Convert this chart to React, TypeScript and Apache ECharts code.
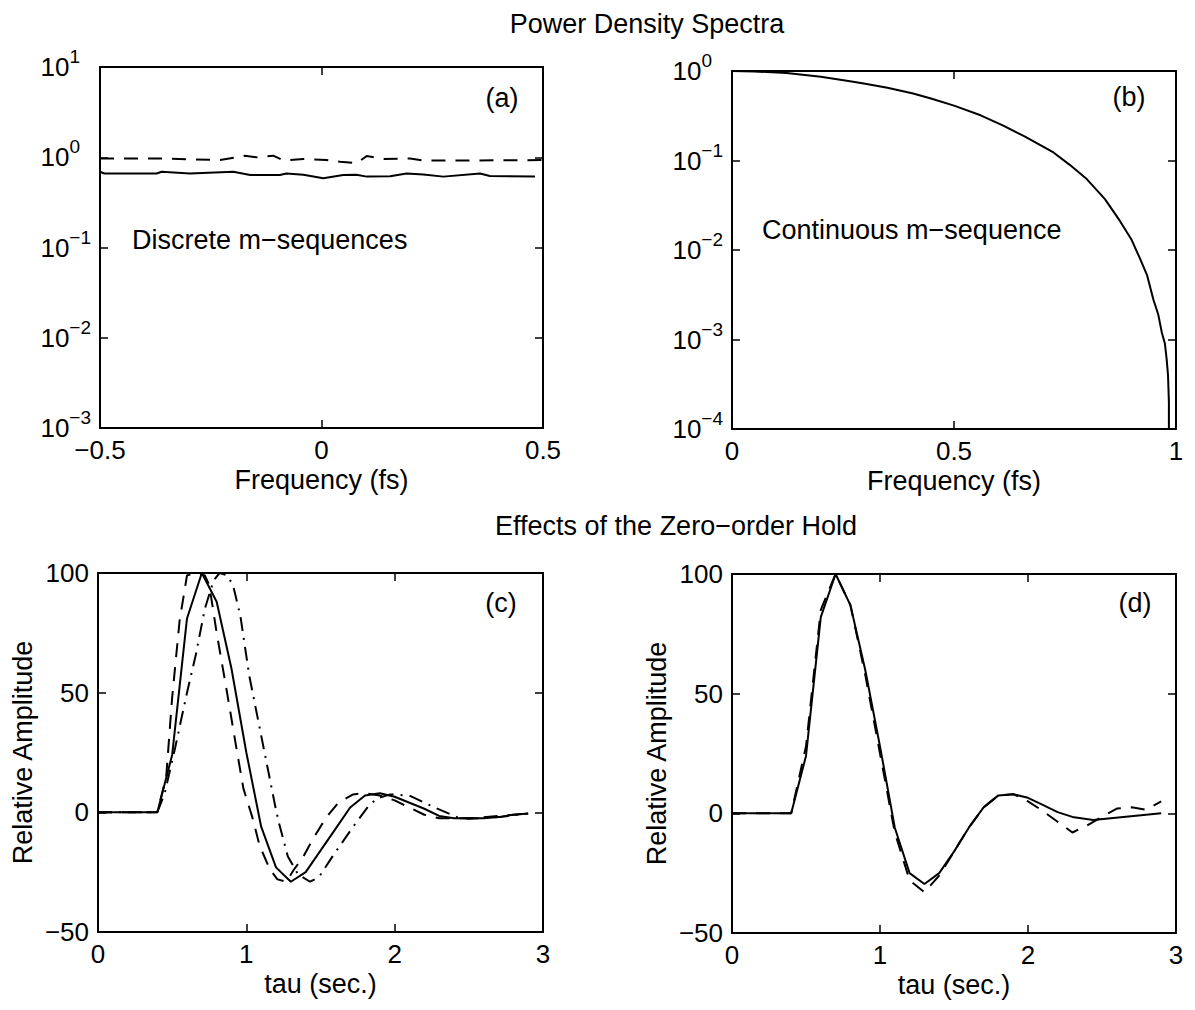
import React, { useEffect, useRef } from 'react';
import * as echarts from 'echarts';

const FONT = '"Liberation Sans", Arial, Helvetica, sans-serif';
const FS = 27;

// ---------- Panel (a): discrete m-sequences PSD ----------
const aSolidFreq = [-0.5, -0.49, -0.372, -0.361, -0.297, -0.199, -0.161, -0.094, -0.079, -0.041, 0.004, 0.049, 0.079, 0.102, 0.155, 0.192, 0.23, 0.275, 0.358, 0.38, 0.482];
const aSolidPsd = [0.69, 0.66, 0.66, 0.69, 0.66, 0.69, 0.635, 0.635, 0.66, 0.64, 0.585, 0.635, 0.64, 0.61, 0.615, 0.66, 0.645, 0.61, 0.66, 0.62, 0.61];
const aDashFreq = [-0.5, -0.372, -0.229, -0.173, -0.146, -0.109, -0.086, -0.041, 0.011, 0.042, 0.079, 0.102, 0.14, 0.2, 0.23, 0.305, 0.5];
const aDashPsd = [0.97, 0.97, 0.93, 1.04, 1.0, 1.04, 0.92, 0.955, 0.93, 0.89, 0.86, 1.03, 0.955, 0.97, 0.92, 0.92, 0.93];

// ---------- Panel (b): continuous m-sequence PSD ----------
const bFreq = [0, 0.05, 0.123, 0.2, 0.273, 0.3, 0.35, 0.408, 0.45, 0.5, 0.56, 0.611, 0.66, 0.724, 0.76, 0.799, 0.84, 0.874, 0.9, 0.919, 0.935, 0.949, 0.96, 0.968, 0.975, 0.979, 0.982, 0.984, 0.984];
const bPsd = [1.0, 0.99, 0.95, 0.86, 0.76, 0.72, 0.65, 0.56, 0.49, 0.41, 0.32, 0.245, 0.185, 0.123, 0.09, 0.062, 0.037, 0.021, 0.013, 0.008, 0.0052, 0.0028, 0.0019, 0.0012, 0.0009, 0.0006, 0.0004, 0.0002, 0.00001];

// ---------- Panel (c): zero-order hold effects ----------
const cSolidTau = [0, 0.4, 0.5, 0.6, 0.7, 0.8, 0.9, 1.0, 1.1, 1.2, 1.3, 1.4, 1.5, 1.6, 1.7, 1.8, 1.9, 2.0, 2.1, 2.2, 2.3, 2.4, 2.5, 2.6, 2.7, 2.8, 2.9];
const cSolidAmp = [0, 0, 24, 81, 100, 88, 60, 25, -6, -23, -29, -25, -16, -7, 2, 7, 8, 6.5, 4, 1.5, -1.5, -2.5, -2.5, -2.5, -2, -1, -0.5];
const cDashTau = [0, 0.4, 0.46, 0.5, 0.55, 0.6, 0.66, 0.72, 0.75, 0.8, 0.87, 0.93, 0.98, 1.04, 1.09, 1.16, 1.21, 1.27, 1.32, 1.38, 1.45, 1.54, 1.62, 1.72, 1.8, 1.9, 2.0, 2.1, 2.2, 2.3, 2.5, 2.7, 2.9];
const cDashAmp = [0, 0, 15, 48, 80, 99, 100, 99, 95, 75, 50, 28, 10, -2, -14, -24, -28, -29, -24, -19, -11, -2, 4, 7.5, 8, 7, 5, 2, -1, -2.5, -2.5, -1.5, -0.5];
const cDotTau = [0, 0.4, 0.45, 0.52, 0.6, 0.66, 0.72, 0.78, 0.82, 0.87, 0.91, 0.96, 1.02, 1.11, 1.2, 1.22, 1.28, 1.35, 1.43, 1.49, 1.58, 1.72, 1.82, 1.88, 1.97, 2.1, 2.26, 2.42, 2.5, 2.7, 2.9];
const cDotAmp = [0, 0, 8, 27, 50, 66, 85, 97, 100, 99, 95, 82, 57, 29, 1, -4.5, -18.5, -26, -29, -27, -18.5, -6, 2.3, 5.8, 7.5, 7, 2.3, -2, -2.7, -2, -0.5];

// ---------- Panel (d) ----------
const dSolidTau = [0, 0.4, 0.5, 0.6, 0.7, 0.8, 0.9, 1.0, 1.1, 1.2, 1.3, 1.4, 1.5, 1.6, 1.7, 1.8, 1.9, 2.0, 2.1, 2.2, 2.3, 2.44, 2.9];
const dSolidAmp = [0, 0, 24, 82, 100, 87, 60, 28, -6, -25, -29.5, -25, -16, -6, 2.5, 7.5, 8, 6.5, 3.5, 0.5, -1.5, -2.8, 0];
const dDashTau = [0, 0.4, 0.5, 0.6, 0.7, 0.8, 0.9, 1.0, 1.1, 1.2, 1.3, 1.4, 1.5, 1.6, 1.7, 1.8, 1.9, 2.0, 2.1, 2.2, 2.3, 2.4, 2.5, 2.6, 2.7, 2.8, 2.9];
const dDashAmp = [0, 0, 28, 85, 100, 87, 58, 25, -8, -28, -33, -26, -16, -6, 2.5, 7.5, 8, 5, 1, -3.5, -8, -5, -1.5, 2, 2.5, 1.5, 5];

const xTicksA = { min: -0.5, max: 0.5, interval: 0.5 };
const xTicksB = { min: 0, max: 1, interval: 0.5 };
const xTicksCD = { min: 0, max: 3, interval: 1 };
const yTicksCD = { min: -50, max: 100, interval: 50 };

const zip = (xs: number[], ys: number[]) => xs.map((x, i) => [x, ys[i]]);
const numFmt = (v: number) => (v === 0 ? '0' : String(v).replace('-', '\u2212'));
const logFmt = (v: number) => {
  const e = Math.round(Math.log10(v));
  return e < 0 ? `{b|10}{s|\u2212${-e}}` : `{b|10}{p|${e}}`;
};

const DASH = [14, 10];
const DASHDOT = [14, 7, 2, 7];

function App() {
  const ref = useRef<HTMLDivElement>(null);
  useEffect(() => {
    document.body.style.margin = '0';
    if (!ref.current) return;
    const chart = echarts.init(ref.current, undefined, { renderer: 'svg' });

    const line = { show: true, onZero: false, lineStyle: { color: '#000', width: 2 } };
    const tick = { show: true, inside: true, length: 8, lineStyle: { color: '#000', width: 1.5 } };
    const label = { color: '#000', fontFamily: FONT, fontSize: 26, margin: 9 };
    const nameStyle = { color: '#000', fontFamily: FONT, fontSize: FS };
    const supStyle = { fontSize: 19, lineHeight: 16, verticalAlign: 'top', fontFamily: FONT, color: '#000' };
    const logLabel = {
      ...label,
      formatter: logFmt,
      rich: {
        b: { fontSize: 26, lineHeight: 40, fontFamily: FONT, color: '#000' },
        s: { ...supStyle },
        p: { ...supStyle, padding: [0, 11, 0, 0] },
      },
    };

    const xPair = (gi: number, t: any, name: string) => [
      {
        type: 'value', gridIndex: gi, position: 'bottom', ...t,
        axisLine: line, axisTick: tick, splitLine: { show: false },
        axisLabel: { ...label, formatter: numFmt },
        name, nameLocation: 'middle', nameGap: 38, nameTextStyle: nameStyle,
      },
      {
        type: 'value', gridIndex: gi, position: 'top', ...t,
        axisLine: line, axisTick: tick, splitLine: { show: false }, axisLabel: { show: false },
      },
    ];
    const yLogPair = (gi: number, min: number, max: number) => [
      {
        type: 'log', logBase: 10, gridIndex: gi, position: 'left', min, max,
        axisLine: line, axisTick: tick, splitLine: { show: false }, axisLabel: logLabel,
      },
      {
        type: 'log', logBase: 10, gridIndex: gi, position: 'right', min, max,
        axisLine: line, axisTick: tick, splitLine: { show: false }, axisLabel: { show: false },
      },
    ];
    const yLinPair = (gi: number) => [
      {
        type: 'value', gridIndex: gi, position: 'left', ...yTicksCD,
        axisLine: line, axisTick: tick, splitLine: { show: false },
        axisLabel: { ...label, formatter: numFmt },
        name: 'Relative Amplitude', nameLocation: 'middle', nameGap: 62, nameTextStyle: nameStyle,
      },
      {
        type: 'value', gridIndex: gi, position: 'right', ...yTicksCD,
        axisLine: line, axisTick: tick, splitLine: { show: false }, axisLabel: { show: false },
      },
    ];

    const ser = (gi: number, data: number[][], type: any) => ({
      type: 'line', xAxisIndex: gi * 2, yAxisIndex: gi * 2, data,
      symbol: 'none', showSymbol: false, clip: true, silent: true,
      lineStyle: { color: '#000', width: 2, type },
    });

    const txt = (text: string, x: number, y: number, align = 'center') => ({
      type: 'text', x, y, silent: true,
      style: {
        text, fill: '#000', fontFamily: FONT, fontSize: FS,
        align, verticalAlign: 'middle', textAlign: align, textVerticalAlign: 'middle',
      },
    });

    chart.setOption({
      animation: false,
      backgroundColor: '#fff',
      grid: [
        { left: 100, top: 67, width: 443, height: 361 },
        { left: 732, top: 71, width: 444, height: 358 },
        { left: 98, top: 573, width: 445, height: 359 },
        { left: 732, top: 574, width: 444, height: 359 },
      ],
      xAxis: [
        ...xPair(0, xTicksA, 'Frequency (fs)'),
        ...xPair(1, xTicksB, 'Frequency (fs)'),
        ...xPair(2, xTicksCD, 'tau (sec.)'),
        ...xPair(3, xTicksCD, 'tau (sec.)'),
      ],
      yAxis: [
        ...yLogPair(0, 0.001, 10),
        ...yLogPair(1, 0.0001, 1),
        ...yLinPair(2),
        ...yLinPair(3),
      ],
      series: [
        ser(0, zip(aDashFreq, aDashPsd), DASH),
        ser(0, zip(aSolidFreq, aSolidPsd), 'solid'),
        ser(1, zip(bFreq, bPsd), 'solid'),
        ser(2, zip(cSolidTau, cSolidAmp), 'solid'),
        ser(2, zip(cDashTau, cDashAmp), DASH),
        ser(2, zip(cDotTau, cDotAmp), DASHDOT),
        ser(3, zip(dSolidTau, dSolidAmp), 'solid'),
        ser(3, zip(dDashTau, dDashAmp), DASH),
      ],
      graphic: [
        txt('Power Density Spectra', 647, 24),
        txt('Effects of the Zero\u2212order Hold', 676, 526),
        txt('(a)', 502, 98),
        txt('(b)', 1129, 97),
        txt('(c)', 501, 603),
        txt('(d)', 1135, 603),
        txt('Discrete m\u2212sequences', 132, 240, 'left'),
        txt('Continuous m\u2212sequence', 762, 230, 'left'),
      ],
    });
    return () => chart.dispose();
  }, []);
  return <div ref={ref} style={{ width: 1195, height: 1010 }} />;
}

export default App;
